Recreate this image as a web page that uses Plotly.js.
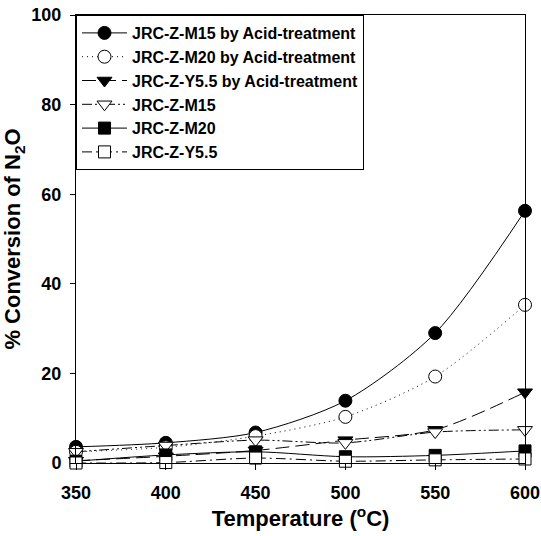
<!DOCTYPE html>
<html>
<head>
<meta charset="utf-8">
<script src="https://cdn.plot.ly/plotly-3.0.1.min.js"></script>
<style>html,body{margin:0;padding:0;background:#fff;}#chart{width:541px;height:536px;}</style>
</head>
<body>
<div id="chart"></div>
<script>
const temps = [350, 400, 450, 500, 550, 600];
const m15Acid = [3.6, 4.5, 6.8, 13.9, 29.0, 56.3];
const m20Acid = [2.5, 3.5, 6.0, 10.3, 19.3, 35.3];
const y55Acid = [0.5, 1.5, 2.8, 5.1, 7.4, 15.8];
const m15 = [2.5, 3.9, 5.1, 4.5, 6.9, 7.4];
const m20 = [0.4, 1.8, 2.5, 1.4, 1.7, 2.7];
const y55 = [0.0, 0.1, 1.1, 0.4, 0.7, 0.9];
const seriesNames = ["JRC-Z-M15 by Acid-treatment", "JRC-Z-M20 by Acid-treatment", "JRC-Z-Y5.5 by Acid-treatment", "JRC-Z-M15", "JRC-Z-M20", "JRC-Z-Y5.5"];
const xTicks = [350, 400, 450, 500, 550, 600];
const yTicks = [0, 20, 40, 60, 80, 100];

const FONT = "Arial, 'Liberation Sans', sans-serif";
function tr(y, name, sym, fill, dash, size) {
  return {
    x: temps, y: y, name: name, type: "scatter", mode: "lines+markers",
    cliponaxis: false,
    line: {color: "#000", width: 1, dash: dash, shape: "spline", smoothing: 0.8},
    marker: {symbol: sym, size: size, color: fill, line: {color: "#000", width: 1}}
  };
}
const data = [
  tr(m15Acid, seriesNames[0], "circle", "#000", "solid", 13),
  tr(m20Acid, seriesNames[1], "circle", "#fff", "1px,4px", 13),
  tr(y55Acid, seriesNames[2], "triangle-down", "#000", "14px,6px", 13),
  tr(m15, seriesNames[3], "triangle-down", "#fff", "10px,3px,2px,3px,2px,3px", 13),
  tr(m20, seriesNames[4], "square", "#000", "solid", 12),
  tr(y55, seriesNames[5], "square", "#fff", "10px,4px,2px,4px", 12)
];
const layout = {
  width: 541, height: 536,
  margin: {l: 76, r: 16, t: 15, b: 73},
  paper_bgcolor: "#fff", plot_bgcolor: "#fff",
  font: {family: FONT, color: "#000"},
  showlegend: true,
  legend: {
    x: 0, y: 1, xanchor: "left", yanchor: "top",
    bgcolor: "#fff", bordercolor: "#000", borderwidth: 1,
    font: {family: FONT, size: 16, color: "#000", weight: "bold"},
    tracegroupgap: 0, itemwidth: 45
  },
  xaxis: {
    range: [350, 600], tickvals: xTicks, ticktext: xTicks.map(String),
    showgrid: false, zeroline: false,
    showline: true, linecolor: "#000", linewidth: 1, mirror: true,
    ticks: "outside", ticklen: 6, tickcolor: "#000", ticklabelstandoff: 7,
    tickfont: {family: FONT, size: 18, color: "#000", weight: "bold"},
    title: {text: "Temperature (<sup>o</sup>C)", font: {family: FONT, size: 22, color: "#000", weight: "bold"}, standoff: 8}
  },
  yaxis: {
    range: [0, 100], tickvals: yTicks, ticktext: yTicks.map(String),
    showgrid: false, zeroline: false,
    showline: true, linecolor: "#000", linewidth: 1, mirror: true,
    ticks: "outside", ticklen: 5, tickcolor: "#000", ticklabelstandoff: 5,
    tickfont: {family: FONT, size: 18, color: "#000", weight: "bold"},
    title: {text: "% Conversion of N<sub>2</sub>O", font: {family: FONT, size: 22, color: "#000", weight: "bold"}, standoff: 5}
  }
};
Plotly.newPlot("chart", data, layout, {displayModeBar: false, staticPlot: true});
</script>
</body>
</html>
